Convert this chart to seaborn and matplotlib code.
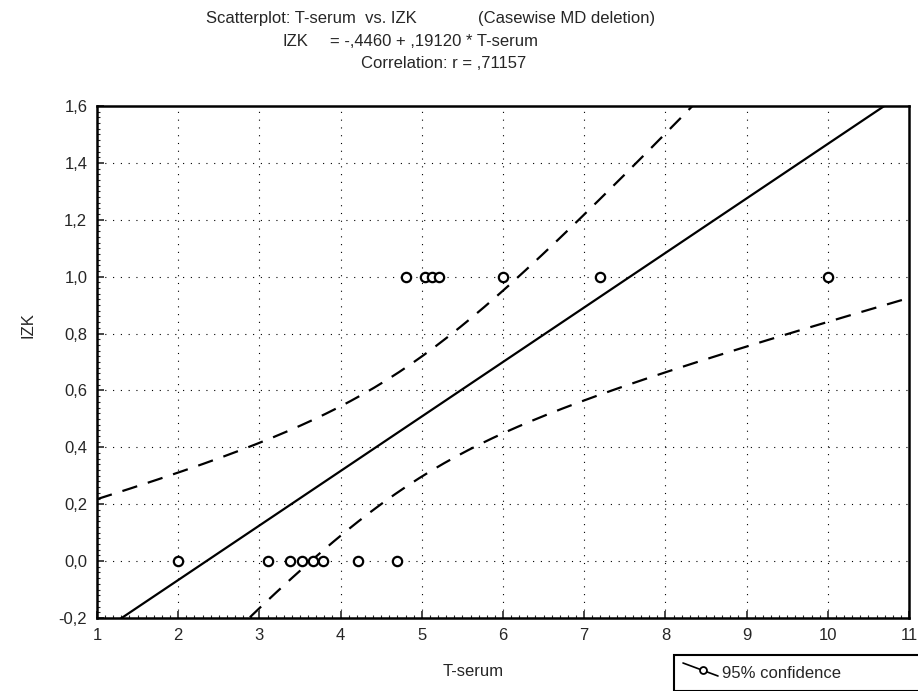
import numpy as np
import pandas as pd
import matplotlib
matplotlib.use("Agg")
import matplotlib.pyplot as plt
from matplotlib.lines import Line2D
from matplotlib.patches import Rectangle
from matplotlib.ticker import MultipleLocator, FuncFormatter
import seaborn as sns

# ---- data ----
t_serum = [2.0, 3.1, 3.38, 3.52, 3.66, 3.78, 4.22, 4.70,
           4.80, 5.04, 5.12, 5.21, 6.0, 7.2, 10.0]
izk = [0, 0, 0, 0, 0, 0, 0, 0,
       1, 1, 1, 1, 1, 1, 1]
x_ticks = [1, 2, 3, 4, 5, 6, 7, 8, 9, 10, 11]
y_ticks = [-0.2, 0.0, 0.2, 0.4, 0.6, 0.8, 1.0, 1.2, 1.4, 1.6]
title_1a = "Scatterplot: T-serum  vs. IZK"
title_1b = "(Casewise MD deletion)"
title_2a = "IZK"
title_2b = "= -,4460 + ,19120 * T-serum"
title_3 = "Correlation: r = ,71157"
x_label = "T-serum"
y_label = "IZK"
legend_label = "95% confidence"

sns.set_style("white")
plt.rcParams['font.family'] = ['Liberation Sans', 'DejaVu Sans']

df = pd.DataFrame({"T-serum": t_serum, "IZK": izk})
x = np.asarray(t_serum, float)
y = np.asarray(izk, float)
n = len(x)
slope, intercept = np.polyfit(x, y, 1)
resid = y - (intercept + slope * x)
s = np.sqrt(np.sum(resid ** 2) / (n - 2))
sxx = np.sum((x - x.mean()) ** 2)
t_crit = 2.160  # t(0.975, 13)
xg = np.linspace(x_ticks[0], x_ticks[-1], 200)
yg = intercept + slope * xg
half = t_crit * s * np.sqrt(1.0 / n + (xg - x.mean()) ** 2 / sxx)
fit = pd.DataFrame({"x": xg, "fit": yg, "lo": yg - half, "hi": yg + half})

W, H = 918, 691
fig = plt.figure(figsize=(W / 100, H / 100), dpi=100)
ax = fig.add_axes([97 / W, 1 - 618 / H, (909 - 97) / W, (618 - 106) / H])

# grid
for v in x_ticks[1:-1]:
    ax.axvline(v, color="black", lw=0.8, ls=(0, (1, 6)), zorder=0)
for v in y_ticks[1:-1]:
    ax.axhline(v, color="black", lw=0.8, ls=(0, (1, 6)), zorder=0)

sns.lineplot(data=fit, x="x", y="fit", ax=ax, color="black", lw=1.6)
sns.lineplot(data=fit, x="x", y="lo", ax=ax, color="black", lw=1.6, dashes=False,
             linestyle=(0, (7, 5)))
sns.lineplot(data=fit, x="x", y="hi", ax=ax, color="black", lw=1.6, dashes=False,
             linestyle=(0, (7, 5)))
sns.scatterplot(data=df, x="T-serum", y="IZK", ax=ax, marker="o", s=45,
                facecolor="white", edgecolor="black", linewidth=1.6, zorder=5)

ax.set_xlim(x_ticks[0], x_ticks[-1])
ax.set_ylim(y_ticks[0], y_ticks[-1])
ax.set_xticks(x_ticks)
ax.set_yticks(y_ticks)
ax.xaxis.set_minor_locator(MultipleLocator(0.1))
ax.yaxis.set_minor_locator(MultipleLocator(0.02))
ax.yaxis.set_major_formatter(FuncFormatter(lambda v, p: f"{v:.1f}".replace(".", ",")))
ax.tick_params(which="major", direction="in", length=5, width=1.2, labelsize=12,
               pad=7, left=True, bottom=True)
ax.tick_params(which="minor", direction="in", length=2, width=0.8, left=True, bottom=True)
for sp in ax.spines.values():
    sp.set_linewidth(1.8)
    sp.set_color("black")
ax.set_xlabel("")
ax.set_ylabel("")
ax.set_facecolor("white")

fs = 12
fig.text(206 / W, 1 - 18 / H, title_1a, fontsize=fs, ha="left", va="center")
fig.text(478 / W, 1 - 18 / H, title_1b, fontsize=fs, ha="left", va="center")
fig.text(282 / W, 1 - 41 / H, title_2a, fontsize=fs, ha="left", va="center")
fig.text(330 / W, 1 - 41 / H, title_2b, fontsize=fs, ha="left", va="center")
fig.text(444 / W, 1 - 63 / H, title_3, fontsize=fs, ha="center", va="center")
fig.text(473 / W, 1 - 672 / H, x_label, fontsize=fs, ha="center", va="center")
fig.text(28 / W, 1 - 325 / H, y_label, fontsize=fs, ha="center", va="center",
         rotation=90)

# legend box
fig.add_artist(Rectangle((674 / W, 0), (W - 674 + 5) / W, (H - 655) / H,
                         transform=fig.transFigure, fill=False, lw=1.5,
                         edgecolor="black", clip_on=False))
fig.add_artist(Line2D([683 / W, 718 / W], [1 - 663 / H, 1 - 676 / H],
                      transform=fig.transFigure, color="black", lw=1.2))
fig.add_artist(Line2D([703 / W], [1 - 670 / H], transform=fig.transFigure,
                      marker="o", ms=5, mfc="white", mec="black", mew=1.3, ls="none"))
fig.text(722 / W, 1 - 673 / H, legend_label, fontsize=fs, ha="left", va="center")

fig.savefig("out.png", dpi=100, facecolor="white")
